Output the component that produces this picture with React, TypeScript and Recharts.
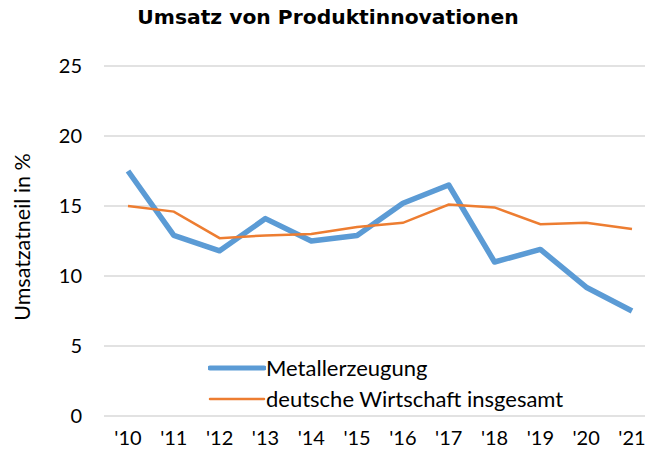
import { CartesianGrid, Legend, Line, LineChart, XAxis, YAxis } from 'recharts'

const years = ["'10", "'11", "'12", "'13", "'14", "'15", "'16", "'17", "'18", "'19", "'20", "'21"]
const metallerzeugung = [17.5, 12.9, 11.8, 14.1, 12.5, 12.9, 15.2, 16.5, 11.0, 11.9, 9.2, 7.5]
const deutscheWirtschaft = [15.0, 14.6, 12.7, 12.9, 13.0, 13.5, 13.8, 15.1, 14.9, 13.7, 13.8, 13.35]
const yTicks = [0, 5, 10, 15, 20, 25]

const data = years.map((year, i) => ({
  year,
  metall: metallerzeugung[i],
  gesamt: deutscheWirtschaft[i],
}))

const labelFont = 'Lato, "Open Sans", sans-serif'

const LegendContent = () => (
  <div style={{ fontFamily: labelFont, fontSize: 22, color: '#000' }}>
    {[
      { name: 'Metallerzeugung', color: '#5b9bd5', width: 5 },
      { name: 'deutsche Wirtschaft insgesamt', color: '#ed7d31', width: 2.5 },
    ].map((item) => (
      <div key={item.name} style={{ display: 'flex', alignItems: 'center', height: 31 }}>
        <svg width={58} height={10}>
          <line x1={2} y1={5} x2={56} y2={5} stroke={item.color} strokeWidth={item.width} strokeLinecap="round" />
        </svg>
        <span>{item.name}</span>
      </div>
    ))}
  </div>
)

const App = () => {
  return (
    <div style={{ position: 'fixed', left: 0, top: 0, width: 645, height: 456, overflow: 'hidden', background: '#fff' }}>
      <div
        style={{
          position: 'absolute',
          left: 0,
          top: 5,
          width: 656,
          textAlign: 'center',
          fontFamily: '"DejaVu Sans", Verdana, sans-serif',
          fontWeight: 'bold',
          fontSize: 20.3,
        }}
      >
        Umsatz von Produktinnovationen
      </div>
      <LineChart width={660} height={456} data={data} margin={{ top: 66, right: 6, left: 0, bottom: 0 }}>
        <CartesianGrid vertical={false} stroke="#d9d9d9" strokeWidth={1.5} />
        <XAxis
          dataKey="year"
          axisLine={false}
          tickLine={false}
          height={40}
          tickSize={0}
          tickMargin={15}
          padding={{ left: 24, right: 22 }}
          interval={0}
          tick={{ fill: '#000', fontSize: 20, fontFamily: labelFont }}
        />
        <YAxis
          domain={[0, 25]}
          ticks={yTicks}
          width={104}
          axisLine={false}
          tickLine={false}
          tickSize={0}
          tickMargin={22}
          tick={{ fill: '#000', fontSize: 20, fontFamily: labelFont }}
          label={{
            value: 'Umsatzatneil in %',
            angle: -90,
            position: 'insideLeft',
            dx: 17,
            dy: -4,
            style: { textAnchor: 'middle', fill: '#000', fontSize: 21.5, fontFamily: labelFont },
          }}
        />
        <Legend
          layout="vertical"
          verticalAlign="middle"
          align="center"
          content={<LegendContent />}
          wrapperStyle={{ left: 208, top: 352, width: 400 }}
        />
        <Line
          type="linear"
          dataKey="metall"
          name="Metallerzeugung"
          stroke="#5b9bd5"
          strokeWidth={5.5}
          dot={false}
          strokeLinejoin="round"
          isAnimationActive={false}
        />
        <Line
          type="linear"
          dataKey="gesamt"
          name="deutsche Wirtschaft insgesamt"
          stroke="#ed7d31"
          strokeWidth={2.5}
          dot={false}
          isAnimationActive={false}
        />
      </LineChart>
    </div>
  )
}

export default App
